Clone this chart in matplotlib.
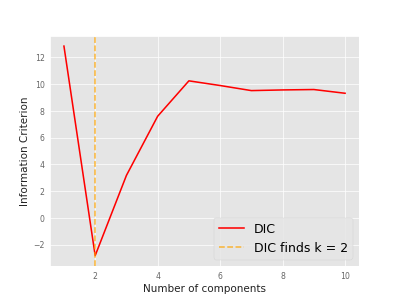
import numpy as np
import matplotlib
matplotlib.use("Agg")
import matplotlib.pyplot as plt

plt.style.use("ggplot")

# Data
n_components = [1, 2, 3, 4, 5, 6, 7, 8, 9, 10]
dic_values = [12.85, -2.83, 3.17, 7.6, 10.25, 9.9, 9.52, 9.57, 9.6, 9.32]
best_k = 2

fig, ax = plt.subplots(figsize=(6.4, 4.8), dpi=62.35)

ax.plot(n_components, dic_values, color="red", linewidth=1.8, label="DIC")
ax.axvline(best_k, color="orange", linestyle="--", linewidth=1.8, alpha=0.75,
           label="DIC finds k = %d" % best_k)

ax.set_xlabel("Number of components", color="#222222")
ax.set_ylabel("Information Criterion", color="#222222")
ax.tick_params(length=0, pad=6, labelsize=9, colors="#666666")
ax.legend(loc="lower right", fontsize="x-large")

fig.savefig("out.png", dpi=62.35)
